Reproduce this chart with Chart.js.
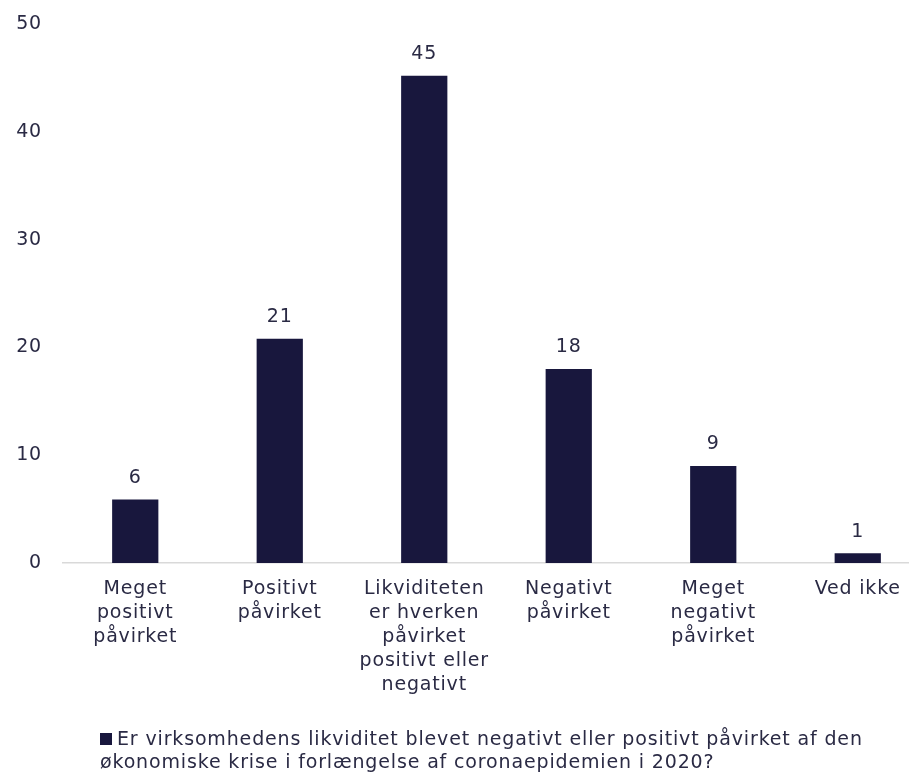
<!DOCTYPE html>
<html>
<head>
<meta charset="utf-8">
<script src="https://cdn.jsdelivr.net/npm/chart.js@4"></script>
<style>
  html, body { margin: 0; padding: 0; background: #ffffff; overflow: hidden; }
  #wrap { position: relative; width: 930px; height: 774px; }
  #legend { position: absolute; left: 100px; top: 727px; font-family: "DejaVu Sans", sans-serif; font-size: 19px; line-height: 23px; letter-spacing: 0.85px; color: #2a2a44; white-space: nowrap; }
  #legend .box { display: inline-block; width: 12px; height: 12px; background: #18173d; margin-right: 5px; vertical-align: 0px; }
</style>
</head>
<body>
<div id="wrap">
  <canvas id="c" width="930" height="774"></canvas>
  <div id="legend"></div>
</div>
<script>
const categories = [
  ["Meget", "positivt", "påvirket"],
  ["Positivt", "påvirket"],
  ["Likviditeten", "er hverken", "påvirket", "positivt eller", "negativt"],
  ["Negativt", "påvirket"],
  ["Meget", "negativt", "påvirket"],
  ["Ved ikke"]
];
const values = [5.9, 20.8, 45.2, 18.0, 9.0, 0.9];
const yTicks = [0, 10, 20, 30, 40, 50];
const seriesLabel = "Er virksomhedens likviditet blevet negativt eller positivt påvirket af den økonomiske krise i forlængelse af coronaepidemien i 2020?";
const legendLines = ["Er virksomhedens likviditet blevet negativt eller positivt påvirket af den", "økonomiske krise i forlængelse af coronaepidemien i 2020?"];

const textColor = "#2a2a44";
const barColor = "#18173d";
const fontFamily = "'DejaVu Sans', sans-serif";

const spacing = {
  id: "spacing",
  beforeDraw(chart) { chart.ctx.letterSpacing = "0.8px"; }
};

const valueLabels = {
  id: "valueLabels",
  afterDatasetsDraw(chart) {
    const ctx = chart.ctx;
    const meta = chart.getDatasetMeta(0);
    ctx.save();
    ctx.letterSpacing = "0.8px";
    ctx.fillStyle = textColor;
    ctx.font = "19px " + fontFamily;
    ctx.textAlign = "center";
    ctx.textBaseline = "bottom";
    meta.data.forEach((bar, i) => {
      ctx.fillText(String(Math.round(values[i])), bar.x, bar.y - 12);
    });
    ctx.restore();
  }
};

new Chart(document.getElementById("c"), {
  type: "bar",
  data: {
    labels: categories,
    datasets: [{
      label: seriesLabel,
      data: values,
      backgroundColor: barColor,
      barPercentage: 0.64,
      categoryPercentage: 0.5
    }]
  },
  options: {
    responsive: false,
    animation: false,
    layout: { padding: { top: 24, left: 0, right: 0, bottom: 0 } },
    plugins: { legend: { display: false }, tooltip: { enabled: false } },
    scales: {
      x: {
        grid: { display: false, drawTicks: false },
        border: { display: true, color: "#d9d9d9", width: 1.5 },
        ticks: { color: textColor, font: { family: fontFamily, size: 19, lineHeight: 1.26 }, padding: 14, maxRotation: 0, autoSkip: false },
        afterFit(scale) { scale.height = 211; scale.paddingLeft = 0; scale.paddingRight = 0; }
      },
      y: {
        min: 0, max: 50,
        afterBuildTicks(scale) { scale.ticks = yTicks.map(v => ({ value: v })); },
        grid: { display: false, drawTicks: false },
        border: { display: false },
        ticks: { color: textColor, font: { family: fontFamily, size: 19 }, padding: 21 },
        afterFit(scale) { scale.width = 63; scale.paddingTop = 0; scale.paddingBottom = 0; }
      }
    }
  },
  plugins: [spacing, valueLabels]
});

const lg = document.getElementById("legend");
const box = document.createElement("span");
box.className = "box";
lg.appendChild(box);
lg.appendChild(document.createTextNode(legendLines[0]));
lg.appendChild(document.createElement("br"));
lg.appendChild(document.createTextNode(legendLines[1]));
</script>
</body>
</html>
